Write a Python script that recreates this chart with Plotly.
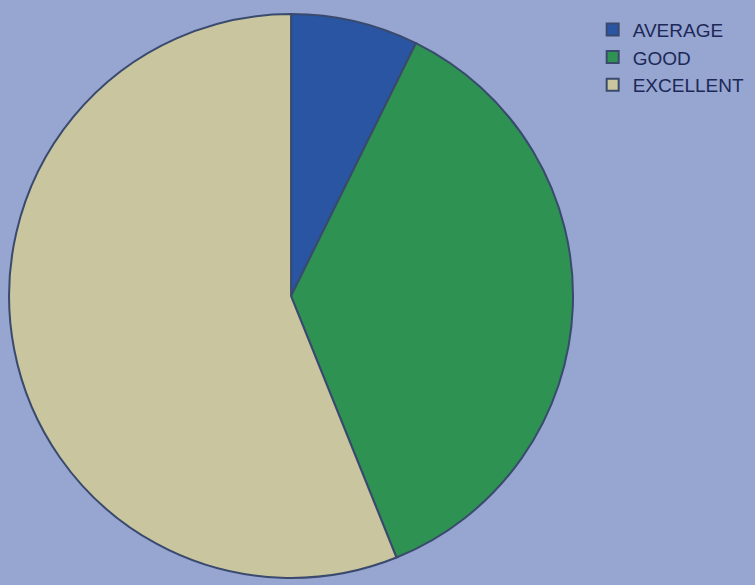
import plotly.graph_objects as go

labels = ["AVERAGE", "GOOD", "EXCELLENT"]
values = [7.3, 36.6, 56.1]
colors = ["#2a55a3", "#2e9352", "#c9c59e"]

fig = go.Figure(go.Pie(
    labels=labels,
    values=values,
    sort=False,
    direction="clockwise",
    rotation=0,
    textinfo="none",
    hoverinfo="label+percent",
    marker=dict(colors=colors, line=dict(color="#3a4a6e", width=2)),
    domain=dict(x=[0.012, 0.759], y=[0.012, 0.976]),
))

fig.update_layout(
    width=755, height=585,
    margin=dict(l=0, r=0, t=0, b=0),
    paper_bgcolor="#97a5d1",
    plot_bgcolor="#97a5d1",
    showlegend=True,
    legend=dict(
        x=0.785, y=0.982, xanchor="left", yanchor="top",
        font=dict(family="Liberation Sans Narrow, Arial Narrow, Liberation Sans, Arial", size=19, color="#1c2858"),
        bgcolor="rgba(0,0,0,0)",
        tracegroupgap=0, itemwidth=30,
    ),
)

fig.write_html(
    "out.html",
    config={"displayModeBar": False},
    post_script="document.body.style.margin='0';document.body.style.background='#97a5d1';",
)
